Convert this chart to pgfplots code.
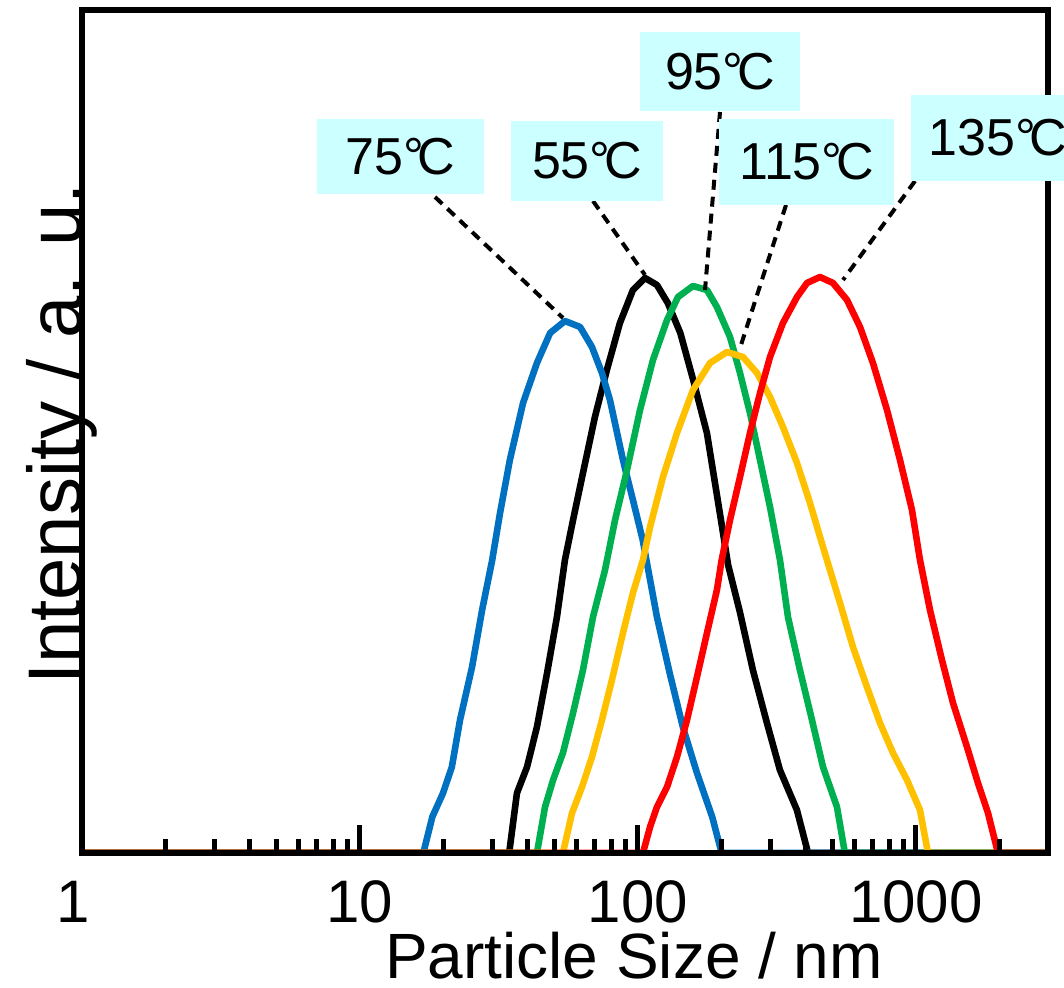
\documentclass[border=0pt]{standalone}
\usepackage{fontspec}
\setmainfont{Liberation Sans}
\usepackage{pgfplots}
\pgfplotsset{compat=1.18}
\definecolor{cblue}{HTML}{0070C0}
\definecolor{cgreen}{HTML}{00B050}
\definecolor{cyellow}{HTML}{FFC000}
\definecolor{cred}{HTML}{FF0000}
\definecolor{boxcyan}{HTML}{CCFFFF}
\tikzset{
  lead/.style={line width=2pt, dash pattern=on 5pt off 3.5pt},
  tag/.style={font=\fontsize{26}{30}\selectfont, inner sep=0pt},
}
\newcommand{\degC}{°\kern-0.12em C}
\begin{document}
\begin{tikzpicture}
\path[use as bounding box] (-41pt,-67.5pt) rectangle (491pt,426.5pt);
\begin{axis}[
  at={(0pt,0pt)}, anchor=south west,
  scale only axis, width=483pt, height=421.5pt,
  xmode=log, xmin=1, xmax=2985, ymin=0, ymax=843,
  axis on top,
  axis line style={line width=2.8pt},
  ytick=\empty,
  xtick={1,10,100,1000},
  minor xtick={2,3,4,5,6,7,8,9,20,30,40,50,60,70,80,90,200,300,400,500,600,700,800,900,2000},
  xticklabels={1\kern9pt, 10, 100, 1000},
  xtick pos=left, tick align=inside,
  major tick length=14pt, minor tick length=7pt,
  major tick style={line width=2.5pt, black},
  minor tick style={line width=2.5pt, black},
  xticklabel style={font=\fontsize{30}{36}\selectfont, anchor=base, yshift=-35pt},
  xlabel={Particle Size / nm},
  xlabel style={font=\fontsize{32}{38}\selectfont, at={(axis description cs:0.5714,0)}, anchor=base, yshift=-63pt},
  ylabel={Intensity / a. u.},
  ylabel style={font=\fontsize{38}{44}\selectfont, at={(axis description cs:0,0.530)}, anchor=base, xshift=-14pt},
]
% 55 C
\addplot[line width=3.3pt, line join=round, black] coordinates {(1,0)(34.4,0)(36.7,60)(39.9,86)(43.3,126)(47.1,180)(51.1,236)(54.6,293)(58.4,333)(63.4,380)(70.0,436)(77.3,483)(86.1,530)(95.9,563)(106,575)(117,568)(128,550)(142,520)(158,473)(177,420)(197,340)(211,288)(233,240)(259,183)(291,130)(324,83)(373,43)(409,0)(2985,0)};
% 75 C
\addplot[line width=3.3pt, line join=round, cblue] coordinates {(1,0)(16.9,0)(18.2,36)(19.9,60)(21.4,86)(22.9,133)(25.3,186)(27.5,243)(29.9,293)(31.9,340)(34.6,393)(38.6,450)(43.3,490)(48.3,520)(54.6,532)(61.9,526)(68.3,506)(74.2,480)(79.3,453)(88.3,393)(95.9,353)(104,313)(117,236)(130,180)(145,126)(163,80)(185,36)(200,0)(2985,0)};
% 95 C
\addplot[line width=3.3pt, line join=round, cgreen] coordinates {(1,0)(43.3,0)(46.3,46)(49.5,73)(53.7,100)(58.4,140)(63.4,183)(68.9,236)(76.1,283)(82.7,333)(91.3,383)(101.7,443)(113.2,493)(127.2,533)(139.3,556)(157.7,567)(177.1,563)(192.3,546)(214.3,516)(232.8,480)(252.9,440)(274.8,393)(298.5,346)(324.2,293)(346.4,236)(382.4,183)(422.6,133)(463,86)(519.8,46)(555,0)(2985,0)};
% 115 C
\addplot[line width=3.3pt, line join=round, cyellow] coordinates {(1,0)(53.7,0)(57.9,40)(62.9,66)(68.3,96)(74.2,133)(80.6,173)(88.3,220)(95.9,260)(104.2,293)(110.5,326)(123,376)(138.1,420)(157.7,463)(181.6,490)(208.9,501)(238.6,496)(268,480)(298.5,456)(332.3,426)(373.3,390)(415.6,350)(463,306)(532.9,250)(593.4,206)(666.3,166)(742.2,130)(826.7,100)(928.2,73)(1033.7,43)(1104.6,0)(2985,0)};
% 135 C
\addplot[line width=3.3pt, line join=round, cred] coordinates {(1,0)(104.2,0)(110.5,26)(117,46)(127.2,66)(138.1,96)(150.1,133)(163,176)(177.1,220)(192.3,263)(200,293)(214.3,333)(232.8,376)(252.9,420)(274.8,460)(298.5,496)(332.3,530)(373.3,556)(405.5,570)(451.4,576)(502.8,570)(564.8,553)(629,526)(700.2,490)(786.7,443)(876,393)(967.4,343)(1033.7,293)(1123,243)(1240,193)(1359,150)(1526,106)(1671,70)(1816,40)(1972,0)(2985,0)};
\end{axis}
% leader lines
\draw[lead] (176.5pt,328pt) -- (240.5pt,267.5pt);
\draw[lead] (255.5pt,326pt) -- (281.5pt,289pt);
\draw[lead] (319pt,370.5pt) -- (311.5pt,281.5pt);
\draw[lead] (352pt,324pt) -- (329.5pt,254pt);
\draw[lead] (416.5pt,336pt) -- (380.5pt,286.5pt);
% labels
\fill[boxcyan] (117.5pt,329.5pt) rectangle (201pt,367pt);
\node[tag] at (159.25pt,348.25pt) {75\degC};
\fill[boxcyan] (214.5pt,326pt) rectangle (290.5pt,366pt);
\node[tag] at (252.5pt,346pt) {55\degC};
\fill[boxcyan] (279pt,371pt) rectangle (359pt,410.5pt);
\node[tag] at (319pt,390.75pt) {95\degC};
\fill[boxcyan] (318.5pt,324pt) rectangle (406pt,367pt);
\node[tag] at (362.25pt,345.5pt) {115\degC};
\fill[boxcyan] (414.5pt,336pt) rectangle (491pt,379pt);
\node[tag] at (458pt,357.5pt) {135\degC};
\end{tikzpicture}
\end{document}
